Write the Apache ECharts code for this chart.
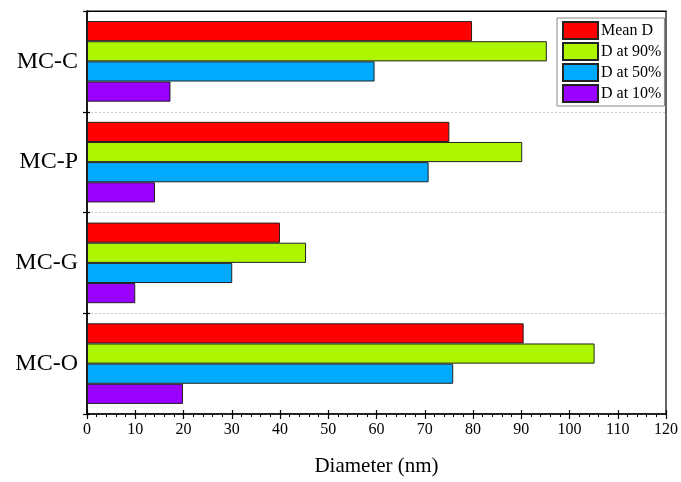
<!DOCTYPE html>
<html>
<head>
<meta charset="utf-8">
<script src="https://cdn.jsdelivr.net/npm/echarts@6/dist/echarts.min.js"></script>
<style>html,body{margin:0;padding:0;background:#fff}#c{width:681px;height:482px}</style>
</head>
<body>
<div id="c"></div>
<script>
var categories = ['MC-O', 'MC-G', 'MC-P', 'MC-C'];
var seriesNames = ['Mean D', 'D at 90%', 'D at 50%', 'D at 10%'];
var meanD = [90.5, 40.0, 75.1, 79.8];
var d90 = [105.2, 45.4, 90.2, 95.3];
var d50 = [75.9, 30.1, 70.8, 59.6];
var d10 = [19.9, 10.0, 14.1, 17.3];
var xTicks = { min: 0, max: 120, interval: 10 };
var colors = ['#ff0000', '#aef500', '#00aaff', '#9900ff'];

var font = 'Liberation Serif';
var values = [meanD, d90, d50, d10];
var series = seriesNames.map(function (n, i) {
  return {
    name: n, type: 'bar', data: values[i],
    xAxisIndex: 0, yAxisIndex: 0,
    barGap: '0%', barCategoryGap: '20%',
    itemStyle: { color: colors[i], borderColor: '#222', borderWidth: 1 }
  };
});

var chart = echarts.init(document.getElementById('c'), null, { renderer: 'canvas' });
chart.setOption({
  backgroundColor: '#fff',
  animation: false,
  textStyle: { fontFamily: font },
  grid: { left: 87, right: 13, top: 11, bottom: 66, show: true, borderColor: '#000', borderWidth: 1.2 },
  legend: {
    orient: 'vertical', left: 557, top: 18,
    data: seriesNames,
    icon: 'rect', itemWidth: 35, itemHeight: 17, itemGap: 2,
    padding: [3, 3, 3, 5],
    borderColor: '#888', borderWidth: 1,
    textStyle: { fontFamily: font, fontSize: 16, color: '#000', padding: [0, 0, 0, -2] }
  },
  xAxis: [{
    type: 'value', min: xTicks.min, max: xTicks.max, interval: xTicks.interval,
    name: 'Diameter (nm)', nameLocation: 'middle', nameGap: 42,
    nameTextStyle: { fontFamily: font, fontSize: 21, color: '#000' },
    axisLine: { show: true, lineStyle: { color: '#000', width: 1.5 } },
    axisTick: { show: true, length: 5, lineStyle: { color: '#000', width: 1.2 } },
    minorTick: { show: true, splitNumber: 5, length: 3, lineStyle: { color: '#000', width: 1 } },
    axisLabel: { fontFamily: font, fontSize: 16, color: '#000', margin: 8 },
    splitLine: { show: false }
  }, {
    type: 'value', min: xTicks.min, max: xTicks.max, interval: xTicks.interval, position: 'bottom',
    axisLine: { show: false },
    axisTick: { show: true, inside: true, length: 4, lineStyle: { color: '#000', width: 1.2 } },
    axisLabel: { show: false }, splitLine: { show: false }
  }, {
    type: 'value', min: xTicks.min, max: xTicks.max, position: 'top',
    axisLine: { show: true, lineStyle: { color: '#000', width: 1.2 } },
    axisTick: { show: false }, axisLabel: { show: false }, splitLine: { show: false }
  }],
  yAxis: [{
    type: 'category', data: categories,
    axisLine: { show: true, lineStyle: { color: '#000', width: 1.5 } },
    axisTick: { show: true, length: 4, lineStyle: { color: '#000', width: 1.2 } },
    axisLabel: { fontFamily: font, fontSize: 24, color: '#000', margin: 9 },
    splitLine: { show: true, lineStyle: { color: '#ccc', type: [2, 2], width: 1 } }
  }, {
    type: 'category', data: categories, position: 'left',
    axisLine: { show: false },
    axisTick: { show: true, inside: true, length: 3, lineStyle: { color: '#000', width: 1.2 } },
    axisLabel: { show: false }, splitLine: { show: false }
  }],
  series: series
});
</script>
</body>
</html>
